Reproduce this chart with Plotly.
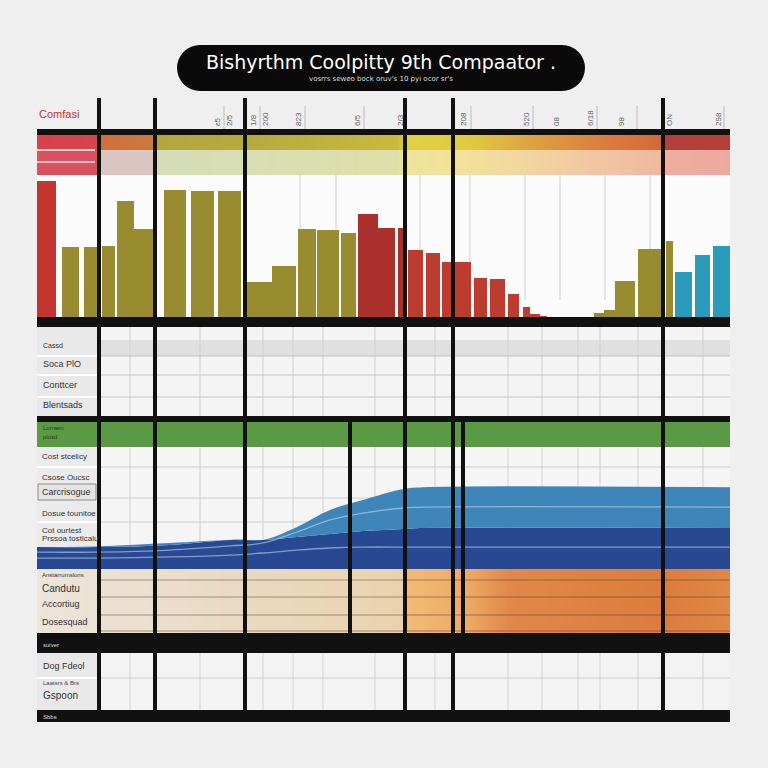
import plotly.graph_objects as go

# ======================= DATA =======================
title_text = "Bishyrthm Coolpitty 9th Compaator ."
subtitle_text = "vosrrs seweo bock oruv's 10 pyi ocor sr's"
corner_label = "Comfasi"

# top (rotated) tick labels, positions on a 0-100 timeline
top_tick_pos = [26.0, 27.7, 31.2, 32.9, 37.7, 46.2, 52.4, 61.6, 70.6, 74.9, 79.8, 84.4, 91.3, 98.3]
top_tick_text = ["ε5", "2/5", "1/8", "200", "823", "6/5", "2/3", "208", "520", "08", "6/18", "98", "ON", "298"]

# bar series (timeline position, bar width, value 0-100, group)
bar_pos = [1.37, 4.83, 7.72, 10.32, 12.77, 15.44, 19.91, 23.88, 27.78, 32.03, 35.64, 38.96,
           41.99, 44.95, 47.76, 50.43, 52.53, 54.62, 57.14, 59.38, 61.47, 64.0, 66.45, 68.76,
           70.63, 71.86, 73.09, 81.10, 82.61, 84.85, 88.38, 91.27, 93.29, 96.03, 98.77]
bar_width = [2.74, 2.45, 1.88, 1.88, 2.45, 2.89, 3.17, 3.32, 3.32, 3.75, 3.46, 2.6,
             3.17, 2.16, 2.89, 2.45, 0.87, 2.16, 2.02, 1.88, 2.31, 1.88, 2.16, 1.59,
             1.01, 1.44, 1.01, 1.44, 1.59, 2.89, 3.32, 1.01, 2.45, 2.16, 2.45]
bar_value = [95.8, 49.3, 49.3, 50.0, 81.7, 62.0, 89.4, 88.7, 88.7, 24.6, 35.9, 62.0,
             61.3, 59.2, 72.5, 62.7, 62.7, 47.2, 45.1, 38.7, 38.7, 27.5, 26.8, 16.2,
             7.0, 2.1, 0.7, 2.8, 4.9, 25.4, 47.9, 53.5, 31.7, 43.7, 50.0]
bar_group = ["red", "olive", "olive", "olive", "olive", "olive", "olive", "olive", "olive",
             "olive", "olive", "olive", "olive", "olive", "darkred", "darkred", "darkred", "red", "red",
             "red", "red", "red", "red", "red", "red", "red", "red", "olive", "olive", "olive",
             "olive", "olive", "teal", "teal", "teal"]

# flow (stacked area) series
flow_x = [0, 9.09, 19.19, 27.85, 32.61, 37.52, 42.28, 47.04, 52.81, 55.7, 100]
flow_base = [34.4, 34.4, 34.4, 34.4, 34.4, 34.4, 34.4, 34.4, 34.4, 34.4, 34.4]
flow_navy = [11.8, 11.8, 12.9, 15.6, 15.6, 17.2, 18.8, 20.4, 21.5, 22.0, 22.0]
flow_light = [0.0, 0.5, 1.1, 0.0, 0.0, 5.4, 12.9, 16.7, 21.5, 22.0, 22.0]
streak_a = [40.3, 40.3, 40.9, 41.9, 43.0, 44.6, 45.7, 46.2, 46.2, 46.2, 46.2]
streak_b = [43.5, 43.5, 44.6, 46.8, 48.4, 54.3, 60.8, 64.5, 67.2, 67.7, 67.7]

# row labels
table1_labels = ["Cassd", "Soca PlO", "Conttcer", "Blentsads"]
green_labels = ["Lorraen", "plusd"]
flow_labels = ["Cost stcelicy", "Csose Oucsc", "Carcrisogue", "Dosue tounitoe",
               "Cot ourtest", "Prssoa tosticalu", "Anstarrumslons", "Candutu",
               "Accortiug", "Dosesquad"]
bottom_labels = ["suiver", "Dog Fdeol", "Laatsrs & Brs", "Gspoon", "Sbbs"]

# ======================= STYLE / LAYOUT =======================
BG = "#efefef"
group_colors = {"red": "#bc3d2f", "darkred": "#a9302b", "olive": "#998b2f", "teal": "#2b9bbb"}
first_bar_color = "#c3352f"

band_x = [0, 8.9, 9.0, 16.9, 17.1, 30, 52, 53.2, 62, 72, 82, 90, 90.4, 100]
band_strong = ["#d8404c", "#d4464e", "#d06e3e", "#c97a3c", "#b4a63e", "#b6aa3e", "#c8ba3e",
               "#e2d240", "#e0cc40", "#dca040", "#dc7c40", "#d46838", "#b4403a", "#b4403a"]
band_light = ["#d9505e", "#d9505e", "#dcc6c4", "#dcc6c4", "#d4dcb8", "#d8deb4", "#dfe0a8",
              "#efe49c", "#f2e09c", "#f2d4a0", "#f1c4a4", "#f0b8a0", "#efae9e", "#eea8a0"]
warm_x = [0, 30, 52.8, 53.2, 62, 68, 90, 100]
warm_colors = ["#ece5da", "#ead9c2", "#ebd2ad", "#f2bb78", "#eeaa66", "#e1894a", "#db7c3e", "#e08846"]

X0, X1 = 37, 730


def fx(p):
    return p / 768.0


def fy(p):
    return 1 - p / 768.0


def colorscale(cols):
    n = len(cols)
    return [[i / (n - 1), c] for i, c in enumerate(cols)]


fig = go.Figure()

# top gradient bands (heatmaps on bar axis)
for cols, edges in [(band_strong, [117.6, 122.9, 128.2]), (band_light, [100, 108.8, 117.6])]:
    n = len(cols)
    fig.add_trace(go.Heatmap(x=band_x, y=edges, z=[list(range(n)), list(range(n))],
                             colorscale=colorscale(cols), zmin=0, zmax=n - 1, zsmooth="best",
                             showscale=False, hoverinfo="skip", xaxis="x", yaxis="y"))

# bars
fig.add_trace(go.Bar(x=bar_pos, y=bar_value, width=bar_width,
                     marker=dict(color=[first_bar_color if i == 0 else group_colors[g]
                                        for i, g in enumerate(bar_group)], line=dict(width=0)),
                     xaxis="x", yaxis="y", hoverinfo="skip"))

# warm base band
n = len(warm_colors)
fig.add_trace(go.Heatmap(x=warm_x, y=[0, 17.2, 34.4], z=[list(range(n)), list(range(n))],
                         colorscale=colorscale(warm_colors), zmin=0, zmax=n - 1, zsmooth="best",
                         showscale=False, hoverinfo="skip", xaxis="x2", yaxis="y2"))

# stacked flow areas
fig.add_trace(go.Scatter(x=flow_x, y=flow_base, stackgroup="flow", mode="lines",
                         line=dict(width=0, shape="spline"), fillcolor="rgba(0,0,0,0)",
                         xaxis="x2", yaxis="y2", hoverinfo="skip"))
fig.add_trace(go.Scatter(x=flow_x, y=flow_navy, stackgroup="flow", mode="lines",
                         line=dict(width=0, shape="spline"), fillcolor="#294892",
                         xaxis="x2", yaxis="y2", hoverinfo="skip"))
fig.add_trace(go.Scatter(x=flow_x, y=flow_light, stackgroup="flow", mode="lines",
                         line=dict(width=0, shape="spline"), fillcolor="#3e85b9",
                         xaxis="x2", yaxis="y2", hoverinfo="skip"))
for s in (streak_a, streak_b):
    fig.add_trace(go.Scatter(x=flow_x, y=s, mode="lines",
                             line=dict(width=1.3, shape="spline", color="rgba(200,225,245,0.55)"),
                             xaxis="x2", yaxis="y2", hoverinfo="skip"))

shapes = []


def rect(x0, y0, x1, y1, color, layer="below", outline=None):
    shapes.append(dict(type="rect", xref="paper", yref="paper", x0=fx(x0), x1=fx(x1),
                       y0=fy(y1), y1=fy(y0), fillcolor=color,
                       line=dict(width=1 if outline else 0, color=outline or color), layer=layer))


def hline(x0, x1, y, color, w=1, layer="below"):
    shapes.append(dict(type="line", xref="paper", yref="paper", x0=fx(x0), x1=fx(x1),
                       y0=fy(y), y1=fy(y), line=dict(color=color, width=w), layer=layer))


def vline(xp, y0, y1, color, w=1, layer="below"):
    shapes.append(dict(type="line", xref="paper", yref="paper", x0=fx(xp), x1=fx(xp),
                       y0=fy(y0), y1=fy(y1), line=dict(color=color, width=w), layer=layer))


# section backgrounds
rect(X0, 175, X1, 317, "#fbfbfb")
rect(X0, 327, X1, 416, "#f4f4f4")
rect(X0, 340, X1, 356, "#e0e0e0")
rect(X0, 447, X1, 633, "#f5f5f5")
rect(X0, 653, X1, 710, "#f3f3f3")
# label columns
rect(X0, 327, 99, 416, "#e9e9e9")
rect(X0, 447, 99, 633, "#ebebeb")
rect(X0, 653, 99, 710, "#e9e9e9")
for yy in [356, 375, 397]:
    hline(X0, 99, yy, "#ffffff", 2)
for yy in [467, 498, 522, 572, 597, 612]:
    hline(X0, 99, yy, "#ffffff", 2)
hline(X0, 99, 678, "#ffffff", 2)
# boxed labels
rect(38, 484, 96, 500, "#e4e4e4", "below", "#8a8a8a")
rect(38, 570, 74, 580, "#dcdcdc", "below", "#9a9a9a")

# thin grid lines
grid_px = [130, 200, 263, 293, 323, 375, 435, 508, 542, 578, 600, 638, 703]
for gx in grid_px:
    vline(gx, 327, 416, "#cfcfcf")
    vline(gx, 447, 633, "#d0d0d0")
    vline(gx, 653, 710, "#d3d3d3")
for yy in [356, 375, 397]:
    hline(99, X1, yy, "#c4c4c4")
for yy in [467, 498, 522]:
    hline(99, X1, yy, "#cccccc")
hline(99, X1, 678, "#cccccc")
# faint lines in bar area and beside the top ticks
for gx in [300, 336, 420, 470, 525, 560, 605, 650]:
    vline(gx, 150, 300, "rgba(150,150,150,0.45)")
for gx in [224, 260, 305, 364, 471, 533, 597, 637, 724]:
    vline(gx, 106, 129, "rgba(140,140,140,0.5)")

# green band
rect(X0, 422, X1, 447, "#5b9a45")

# row lines across warm band (above traces)
for yy in [580, 597, 615, 631]:
    hline(99, X1, yy, "rgba(70,45,25,0.45)", 1.2, "above")
# white streaks in the red header band
hline(X0, 95, 150, "rgba(255,255,255,0.7)", 2, "above")
hline(X0, 95, 162, "rgba(255,255,255,0.6)", 2, "above")

# black bands
for (a, b) in [(129, 135), (317, 327), (416, 422), (633, 653), (710, 722)]:
    rect(X0, a, X1, b, "#111111", "above")

# thick dividers
for xp in [99, 155, 245, 405, 453, 663]:
    vline(xp, 98, 722, "#111111", 4, "above")
for xp in [350, 463]:
    vline(xp, 422, 653, "#111111", 4, "above")

# title pill
rect(200, 45, 562, 91, "#0a0a0a", "above")
for cx in (200, 562):
    shapes.append(dict(type="circle", xref="paper", yref="paper", x0=fx(cx - 23), x1=fx(cx + 23),
                       y0=fy(91), y1=fy(45), fillcolor="#0a0a0a", line=dict(width=0), layer="above"))

ann = []


def label(text, xp, yp, size=9, color="#333333", anchor="left", family="Liberation Sans"):
    ann.append(dict(text=text, x=fx(xp), y=fy(yp), xref="paper", yref="paper", showarrow=False,
                    xanchor=anchor, yanchor="middle", font=dict(size=size, color=color, family=family)))


label(title_text, 381, 62, 19, "#ffffff", "center", "DejaVu Sans")
label(subtitle_text, 381, 79, 7, "#dddddd", "center", "DejaVu Sans")
label(corner_label, 37, 114, 11, "#c0392b", "left", "Liberation Sans")

for t, yp, s in zip(table1_labels, [346, 364, 385, 405], [7, 9, 9, 9]):
    label(t, 41, yp, s)
for t, yp in zip(green_labels, [428, 437]):
    label(t, 41, yp, 6, "#233a1a")
for t, yp, s in zip(flow_labels, [456, 477, 492, 513, 530, 538, 575, 588, 604, 622],
                    [8, 8, 9, 8, 8, 8, 6, 10, 9, 9]):
    label(t, 40, yp, s)
for t, yp, s, c in zip(bottom_labels, [645, 666, 683, 695, 717], [6, 9, 6, 10, 6],
                       ["#dddddd", "#333333", "#444444", "#333333", "#dddddd"]):
    label(t, 41, yp, s, c)

xdom = [fx(X0), fx(X1)]
fig.update_layout(
    width=768, height=768, autosize=False,
    margin=dict(l=0, r=0, t=0, b=0),
    paper_bgcolor=BG, plot_bgcolor="rgba(0,0,0,0)",
    showlegend=False, bargap=0,
    shapes=shapes, annotations=ann,
    xaxis=dict(domain=xdom, range=[0, 100], side="top", anchor="y",
               tickvals=top_tick_pos, ticktext=top_tick_text, tickangle=-90,
               tickfont=dict(size=8, color="#666666", family="Liberation Sans"),
               ticks="", ticklabelstandoff=8, showgrid=False, zeroline=False, showline=False),
    yaxis=dict(domain=[fy(317), fy(135)], range=[0, 128.2], visible=False),
    xaxis2=dict(domain=xdom, range=[0, 100], anchor="y2", visible=False),
    yaxis2=dict(domain=[fy(633), fy(447)], range=[0, 100], visible=False),
)

fig.write_html("out.html")
